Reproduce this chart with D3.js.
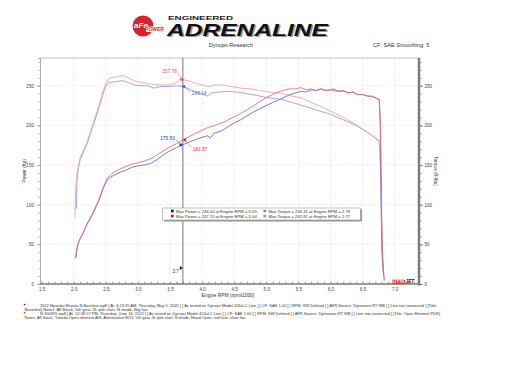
<!DOCTYPE html>
<html><head><meta charset="utf-8">
<script src="https://cdn.jsdelivr.net/npm/d3@7"></script>
<style>html,body{margin:0;padding:0;background:#fff;}svg{display:block;font-family:"Liberation Sans","DejaVu Sans",sans-serif;}</style>
</head><body>
<script>
// ---- data ----
const bluePowerRpm = [2.03,2.04,2.05,2.07,2.10,2.14,2.20,2.30,2.40,2.46,2.52,2.58,2.65,2.72,2.80,2.90,3.00,3.10,3.20,3.30,3.40,3.50,3.60,3.70,3.80,3.90,4.00,4.08,4.13,4.18,4.30,4.40,4.50,4.60,4.70,4.80,4.90,5.00,5.10,5.22,5.35,5.45,5.55,5.62,5.70,5.78,5.85,5.95,6.05,6.12,6.20,6.28,6.35,6.42,6.50,6.58,6.65,6.72,6.76,6.775,6.785,6.795,6.80,6.81,6.82,6.83];
const bluePower    = [33,36,44,51,57,63,74,89,107,121,131,135,138,141,143,147,149,150,152,157,163,168,172,175.5,179,182,185,187,184,190,193,198,203,207,212,217,221,225,229,233,238,241,243,242,245,244,246,244,246,243,244,241,242,239,239,237,237,234,232,205,150,90,55,35,22,12];
const redPowerRpm  = [2.02,2.03,2.04,2.06,2.10,2.15,2.20,2.30,2.40,2.46,2.52,2.58,2.65,2.72,2.80,2.90,3.00,3.10,3.20,3.30,3.40,3.50,3.60,3.70,3.80,3.90,4.00,4.08,4.20,4.34,4.45,4.60,4.75,4.86,5.00,5.10,5.22,5.35,5.45,5.54,5.62,5.70,5.78,5.85,5.92,6.00,6.10,6.20,6.28,6.35,6.42,6.50,6.58,6.65,6.72,6.76,6.78,6.79,6.80,6.81,6.82,6.83,6.84];
const redPower     = [32,35,42,50,58,65,75,90,108,122,133,138,142,145,148,151,153,155,158,163,168,173,177,181.6,186,190,194,197,200,204,209,215,222,228,235,239,243,246,246,247.7,245,246,244,246,244,245,243,243,241,242,239,239,237,236,234,233,200,140,80,45,25,14,5];
const blueTorqueRpm= [2.04,2.045,2.05,2.07,2.10,2.20,2.30,2.40,2.45,2.50,2.55,2.65,2.76,2.85,2.95,3.05,3.15,3.25,3.35,3.50,3.60,3.70,3.80,3.90,4.00,4.08,4.15,4.25,4.40,4.55,4.70,4.85,5.00,5.22,5.40,5.60,5.80,6.00,6.20,6.40,6.60,6.76,6.775,6.785,6.795,6.80,6.81,6.82,6.83];
const blueTorque   = [95,110,130,145,157,175,199,224,238,250,254,255,256.4,254,251,250,250,247,249,249,250,249.1,246,242,240,237,241,242,243,242,240,238,235,233,229,224,219,214,207,200,190,180,160,115,70,45,28,16,9];
const redTorqueRpm = [2.02,2.025,2.03,2.05,2.10,2.20,2.30,2.40,2.45,2.50,2.55,2.65,2.77,2.85,2.95,3.05,3.20,3.35,3.50,3.60,3.66,3.70,3.80,3.90,4.00,4.10,4.20,4.30,4.45,4.60,4.75,4.90,5.05,5.22,5.40,5.54,5.70,5.85,6.00,6.20,6.40,6.60,6.76,6.78,6.79,6.80,6.81,6.82,6.83,6.84];
const redTorque    = [83,100,120,138,160,177,202,227,242,252,259,261,262.9,260,256,254,252,251,251,254,259,257.8,256,253,251,249,251,251,249,247,246,244,242,241,237,235,229,224,218,210,201,190,181,150,105,60,33,19,10,4];
const xTicks = [1.5,2.0,2.5,3.0,3.5,4.0,4.5,5.0,5.5,6.0,6.5,7.0];
const yTicks = [0,50,100,150,200,250];
const legendRows = [
  ["Max Power = 246.00 at Engine RPM = 6.05","Max Torque = 256.41 at Engine RPM = 2.76"],
  ["Max Power = 247.70 at Engine RPM = 5.54","Max Torque = 262.87 at Engine RPM = 2.77"]];
const notes = [
  "2022 Hyundai Elantra N Baseline.wp8 [ At: 6:23:35 AM, Thursday, May 5, 2022 ] [ As tested on Dynojet Model 424xLC Line ] [ CF: SAE 1.00 ] [ RPM: SW Defined ] [ AFR Source: Dynoware RT WB ] [ Line not connected ] [Title:",
  "Baseline]  Notes: All Stock, 5th gear 2k rpm start, N mode, Big fan",
  "N-300970.wp8 [ At: 12:09:57 PM, Thursday, June 16, 2022 ] [ As tested on Dynojet Model 424xLC Line ] [ CF: SAE 1.00 ] [ RPM: SW Defined ] [ AFR Source: Dynoware RT WB ] [ Line not connected ] [Title: Open Element PDR]",
  "Notes: All Stock, Takeda Open element AIS, Aftermarket BOV, 5th gear 2k rpm start, N mode, Hood Open, red fuse silver fan"];
const cursorRpm = 3.7;

// ---- chart ----
const W=511,H=365;
const svg=d3.select("body").append("svg").attr("width",W).attr("height",H);
const L=40,R=419,T=58,B=284;
const x=d3.scaleLinear().domain([1.474,7.38]).range([L,R]);
const y=d3.scaleLinear().domain([0,285]).range([B,T]);

// grid
const g=svg.append("g");
g.selectAll(".gx").data(xTicks.filter(d=>d>1.5)).join("line")
 .attr("x1",d=>x(d)).attr("x2",d=>x(d)).attr("y1",T).attr("y2",B)
 .attr("stroke","#cfcfcf").attr("stroke-width",0.6).attr("stroke-dasharray","1,1.5");
g.selectAll(".gy").data(yTicks.filter(d=>d>0)).join("line")
 .attr("x1",L).attr("x2",R).attr("y1",d=>y(d)).attr("y2",d=>y(d))
 .attr("stroke","#cfcfcf").attr("stroke-width",0.6).attr("stroke-dasharray","1,1.5");
// top frame
svg.append("line").attr("x1",L).attr("x2",R+2).attr("y1",T).attr("y2",T).attr("stroke","#aaa").attr("stroke-width",0.7);

// left axis
const yMinor=d3.range(0,281,10);
const la=svg.append("g").attr("transform",`translate(${L},0)`)
 .call(d3.axisLeft(y).tickValues(yMinor).tickSize(2).tickFormat(""));
la.select(".domain").attr("stroke","#999").attr("stroke-width",0.8);
la.selectAll("line").attr("stroke","#999").attr("stroke-width",0.6);
const la2=svg.append("g").attr("transform",`translate(${L},0)`)
 .call(d3.axisLeft(y).tickValues(yTicks).tickSize(3).tickPadding(3).tickFormat(d3.format("d")));
la2.select(".domain").remove();
la2.selectAll("line").attr("stroke","#888").attr("stroke-width",0.6);
la2.selectAll("text").attr("font-size",4.6).attr("fill","#444");

// right axis
const ra=svg.append("g").attr("transform",`translate(${R},0)`)
 .call(d3.axisRight(y).tickValues(yMinor).tickSize(3).tickFormat(""));
ra.select(".domain").remove();
ra.selectAll("line").attr("stroke","#777").attr("stroke-width",0.6);
const ra2=svg.append("g").attr("transform",`translate(${R},0)`)
 .call(d3.axisRight(y).tickValues(yTicks).tickSize(4).tickPadding(1.5).tickFormat(d3.format("d")));
ra2.select(".domain").remove();
ra2.selectAll("line").attr("stroke","#666").attr("stroke-width",0.7);
ra2.selectAll("text").attr("font-size",4.6).attr("fill","#444");
svg.append("line").attr("x1",R).attr("x2",R).attr("y1",T).attr("y2",B+1.5).attr("stroke","#7a7a7a").attr("stroke-width",2.4);

// bottom axis
const xMinor=d3.range(1.5,7.35,0.1);
const ba=svg.append("g").attr("transform",`translate(0,${B})`)
 .call(d3.axisTop(x).tickValues(xMinor).tickSize(2.5).tickFormat(""));
ba.select(".domain").remove();
ba.selectAll("line").attr("stroke","#777").attr("stroke-width",0.7);
const ba2=svg.append("g").attr("transform",`translate(0,${B})`)
 .call(d3.axisBottom(x).tickValues(xTicks).tickSize(0).tickPadding(4).tickFormat(d3.format(".1f")));
ba2.select(".domain").remove();
ba2.selectAll("text").attr("font-size",4.6).attr("fill","#444");
svg.append("line").attr("x1",L).attr("x2",R+1).attr("y1",B).attr("y2",B).attr("stroke","#7a7a7a").attr("stroke-width",1.6);

// axis titles
svg.append("text").attr("transform",`translate(26,${(T+B)/2}) rotate(-90)`).attr("text-anchor","middle")
 .attr("font-size",4.8).attr("fill","#333").text("Power (hp)");
svg.append("text").attr("transform",`translate(434,${(T+B)/2}) rotate(90)`).attr("text-anchor","middle")
 .attr("font-size",4.8).attr("fill","#333").text("Torque (ft-lbs)");
svg.append("text").attr("x",228).attr("y",297).attr("text-anchor","middle")
 .attr("font-size",4.8).attr("fill","#333").text("Engine RPM (rpmx1000)");

// curves
const line=d3.line().x(d=>x(d[0])).y(d=>y(d[1]));
const series=[
 {rpm:blueTorqueRpm,v:blueTorque,c:"#9b9bea"},
 {rpm:redTorqueRpm,v:redTorque,c:"#f0a3a8"},
 {rpm:bluePowerRpm,v:bluePower,c:"#6a6ae0"},
 {rpm:redPowerRpm,v:redPower,c:"#ec6e74"}];
series.forEach(s=>{
  svg.append("path").datum(s.rpm.map((r,i)=>[r,s.v[i]])).attr("d",line)
   .attr("fill","none").attr("stroke",s.c).attr("stroke-width",0.9).attr("stroke-linejoin","round");
});

// cursor
svg.append("line").attr("x1",x(cursorRpm)).attr("x2",x(cursorRpm)).attr("y1",T).attr("y2",B)
 .attr("stroke","#666").attr("stroke-width",0.9);
svg.append("text").attr("x",x(cursorRpm)-4).attr("y",273).attr("text-anchor","end").attr("font-size",4.6).attr("fill","#333").text("3.7");
svg.append("path").attr("d",`M${x(cursorRpm)-3},${266}l3,2l-3,2z`).attr("fill","#222");

// point annotations
const ann=[
 {v:257.78,c:"#e05560",dx:-5,dy:-8,ta:"end"},
 {v:249.14,c:"#5a5ad8",dx:8,dy:7,ta:"start"},
 {v:175.50,c:"#3030d0",dx:-6,dy:-6,ta:"end"},
 {v:181.57,c:"#e03040",dx:8,dy:9,ta:"start"}];
ann.forEach((a,i)=>{
  const px=x(cursorRpm), py=y(a.v);
  const sx = i===0?px-1:(i===1?px+1:(i===2?px-2:px+2));
  svg.append("line").attr("x1",sx).attr("y1",py).attr("x2",sx+a.dx*0.8).attr("y2",py+a.dy*0.8).attr("stroke",a.c).attr("stroke-width",0.5);
  svg.append("rect").attr("x",sx-1.3).attr("y",py-1.3).attr("width",2.6).attr("height",2.6).attr("fill",a.c);
  svg.append("text").attr("x",sx+a.dx).attr("y",py+a.dy+1.5).attr("text-anchor",a.ta).attr("font-size",4.8).attr("fill",a.c).text(a.v.toFixed(2));
});

// legend
const lg=svg.append("g");
lg.append("rect").attr("x",164).attr("y",209.5).attr("width",198).attr("height",12).attr("fill","#999");
lg.append("rect").attr("x",162.5).attr("y",208).attr("width",198).attr("height",12).attr("fill","#fff").attr("stroke","#888").attr("stroke-width",0.5);
const sq=[["#0000dd","#7a7af5"],["#dd0000","#f07070"]];
legendRows.forEach((row,ri)=>{
  row.forEach((t,ci)=>{
    const lx=ci===0?171:263.5, ly=211.5+ri*5;
    lg.append("rect").attr("x",lx).attr("y",ly-1.8).attr("width",2.6).attr("height",2.6).attr("fill",sq[ri][ci]);
    lg.append("text").attr("x",lx+5).attr("y",ly+1).attr("font-size",4.2).attr("fill","#333").text(t);
  });
});

// header
svg.append("circle").attr("cx",143).attr("cy",26).attr("r",10.5).attr("fill","#d8232a");
svg.append("text").attr("x",141).attr("y",28).attr("text-anchor","middle").attr("font-size",8).attr("font-weight","bold").attr("fill","#fff").attr("font-style","italic").text("aFe");
svg.append("rect").attr("x",146).attr("y",26.5).attr("width",17).attr("height",5.5).attr("fill","#fff");
svg.append("text").attr("x",154.5).attr("y",31.2).attr("text-anchor","middle").attr("font-size",5).attr("font-weight","bold").attr("font-style","italic").attr("fill","#d8232a").text("POWER");
svg.append("text").attr("x",168).attr("y",19.8).attr("font-size",5.4).attr("font-weight","bold").attr("fill","#222")
 .attr("textLength",65).attr("lengthAdjust","spacingAndGlyphs").text("ENGINEERED");
svg.append("text").attr("transform","translate(168.5,37) scale(1,1.1)").attr("font-size",15.5).attr("font-weight","bold").attr("font-style","italic").attr("fill","#999")
 .attr("textLength",161).attr("lengthAdjust","spacingAndGlyphs").text("ADRENALINE");
svg.append("text").attr("transform","translate(167,36.3) scale(1,1.1)").attr("font-size",15.5).attr("font-weight","bold").attr("font-style","italic").attr("fill","#111")
 .attr("textLength",161).attr("lengthAdjust","spacingAndGlyphs").text("ADRENALINE");
svg.append("text").attr("x",231).attr("y",46.5).attr("text-anchor","middle").attr("font-size",5.6).attr("fill","#333").text("Dynojet Research");
svg.append("text").attr("x",373).attr("y",46.5).attr("font-size",5.6).attr("fill","#333").text("CF: SAE Smoothing: 5");

// dynojet logo
svg.append("rect").attr("x",392.5).attr("y",279.5).attr("width",13).attr("height",4.3).attr("fill","#e0202a");
svg.append("text").attr("x",393).attr("y",283.3).attr("font-size",4.6).attr("font-weight","bold").attr("font-style","italic").attr("fill","#fff").text("DYNO");
svg.append("text").attr("x",405.6).attr("y",283.3).attr("font-size",4.6).attr("font-weight","bold").attr("font-style","italic").attr("fill","#111").text("JET");

// notes
svg.append("circle").attr("cx",24.5).attr("cy",304.5).attr("r",0.8).attr("fill","#0000ee");
svg.append("circle").attr("cx",24.5).attr("cy",312.8).attr("r",0.8).attr("fill","#ee0000");
const ny=[306.5,310.7,315,319.3], nx=[40,24.5,40,24.5], nw=[397,123,400,221];
notes.forEach((t,i)=>{
  svg.append("text").attr("x",nx[i]).attr("y",ny[i]).attr("font-size",3.9).attr("fill","#333")
   .attr("textLength",nw[i]).attr("lengthAdjust","spacingAndGlyphs").text(t);
});
</script>
</body></html>
